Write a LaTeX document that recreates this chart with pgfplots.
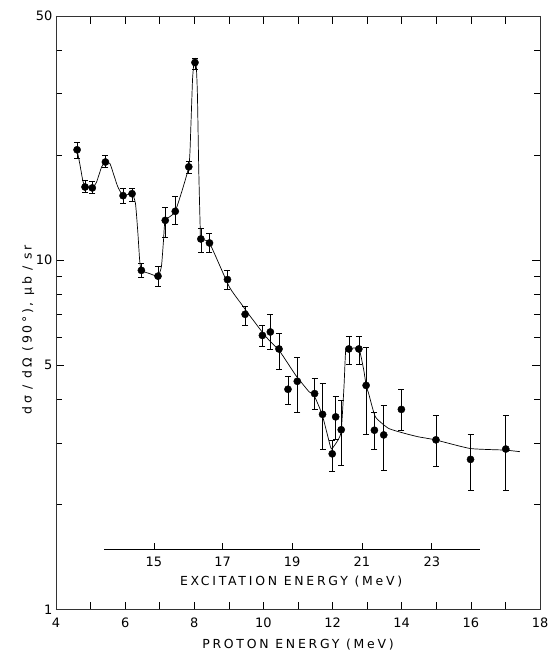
\documentclass[border=0pt]{standalone}
\usepackage{fontspec}
\setmainfont{DejaVu Sans}
\newfontfamily\spaced[LetterSpace=22]{DejaVu Sans}
\usepackage{pgfplots}
\usepackage{pgfplotstable}
\pgfplotsset{compat=1.18}
\usetikzlibrary{calc}

% measured points: proton energy, cross section, error bar low/high
\pgfplotstableread{
x y lo hi
4.61 20.7 19.6 21.8
4.84 16.2 15.6 16.9
5.05 16.1 15.5 16.8
5.43 19.1 18.4 19.9
5.94 15.3 14.5 16.1
6.20 15.5 14.7 16.1
6.47 9.35 8.96 9.78
6.95 9.0 8.4 9.6
7.16 13.0 11.6 14.2
7.45 13.8 12.7 15.2
7.84 18.5 17.7 19.2
8.02 36.8 35.2 37.9
8.19 11.5 10.5 12.3
8.44 11.2 10.5 11.9
8.96 8.8 8.27 9.33
9.47 7.0 6.5 7.4
9.97 6.09 5.67 6.5
10.20 6.23 5.57 6.98
10.45 5.57 4.86 6.18
10.71 4.27 3.86 4.65
10.98 4.5 3.68 5.28
11.48 4.15 3.75 4.58
11.71 3.62 2.87 4.44
11.99 2.79 2.49 3.06
12.09 3.56 3.07 4.07
12.25 3.27 2.58 3.97
12.47 5.57 5.05 6.05
12.76 5.57 5.05 6.05
12.97 4.38 3.18 5.64
13.21 3.26 2.88 3.67
13.48 3.16 2.51 3.85
13.99 3.74 3.25 4.27
14.99 3.06 2.57 3.59
15.99 2.69 2.20 3.18
17.01 2.88 2.19 3.59
}\pts

% hand-drawn guide curve
\pgfplotstableread{
x y
4.61 20.7
4.70 18.6
4.77 17.0
4.84 16.2
5.05 16.1
5.17 16.7
5.32 18.5
5.43 19.1
5.56 18.9
5.70 17.2
5.79 16.2
5.94 15.3
6.20 15.5
6.30 14.5
6.37 11.9
6.42 10.0
6.47 9.35
6.71 9.15
6.95 9.0
7.05 9.6
7.11 11.4
7.16 13.0
7.45 13.8
7.84 18.5
7.90 24
7.95 33
8.00 37.6
8.05 37.2
8.09 30
8.13 18
8.17 12.5
8.19 11.5
8.44 11.2
9.01 8.4
9.38 7.45
9.59 6.97
10.07 6.04
10.48 5.47
10.93 4.69
11.32 4.2
11.46 4.11
11.70 3.61
11.94 2.92
11.99 2.89
12.16 3.06
12.25 3.24
12.33 4.34
12.38 5.53
12.47 5.58
12.76 5.58
12.90 4.86
12.97 4.39
13.05 4.13
13.24 3.56
13.62 3.30
14.10 3.19
14.49 3.12
14.97 3.06
15.98 2.89
16.98 2.86
17.42 2.83
}\curve

\begin{document}
\begin{tikzpicture}
\begin{axis}[
  scale only axis, width=484bp, height=593.5bp,
  xmin=4, xmax=18, ymode=log, ymin=1, ymax=50,
  xtick={4,...,18}, xticklabels={4,,6,,8,,10,,12,,14,,16,,18},
  ytick={1,5,10,50}, yticklabels={1,5,10,50},
  minor ytick={2,3,4,6,7,8,9,20,30,40},
  tick align=inside, major tick length=8bp, minor tick length=6bp,
  axis line style={line width=0.6pt, black!80},
  tick style={black, line width=0.6pt},
  tick label style={font=\fontsize{13}{15}\selectfont},
  xticklabel style={yshift=-5bp},
  /pgf/number format/assume math mode=true,
  xlabel={\spaced PROTON ENERGY (MeV)},
  ylabel={\spaced dσ / dΩ (90°), μb / sr},
  every axis x label/.style={at={(axis description cs:0.5,-0.0598)}, anchor=center,
    font=\fontsize{12.5}{15}\selectfont},
  every axis y label/.style={at={(axis description cs:-0.0576,0.4714)}, rotate=90,
    anchor=center, font=\fontsize{12.5}{15}\selectfont},
  clip=false,
]
\addplot[black, line width=0.7pt, smooth, tension=0.3] table {\curve};
\addplot[black, only marks, mark=*, mark size=3.6bp,
  error bars/.cd, y dir=both, y explicit,
  error bar style={line width=0.6pt},
  error mark options={rotate=90, mark size=3bp, line width=0.6pt}]
  table[y error plus expr=\thisrow{hi}-\thisrow{y},
        y error minus expr=\thisrow{y}-\thisrow{lo}] {\pts};
% excitation energy scale
\draw[line width=0.6pt] (axis cs:5.39,1.485) -- (axis cs:16.27,1.485);
\draw[line width=0.6pt]
  (axis cs:6.83,1.485) -- (axis cs:6.83,1.555)
  (axis cs:8.82,1.485) -- (axis cs:8.82,1.555)
  (axis cs:10.83,1.485) -- (axis cs:10.83,1.555)
  (axis cs:12.85,1.485) -- (axis cs:12.85,1.555)
  (axis cs:14.87,1.485) -- (axis cs:14.87,1.555);
\path[font=\fontsize{13}{15}\selectfont]
  (axis cs:6.83,1.485) node[yshift=-12bp] {15}
  (axis cs:8.82,1.485) node[yshift=-12bp] {17}
  (axis cs:10.83,1.485) node[yshift=-12bp] {19}
  (axis cs:12.85,1.485) node[yshift=-12bp] {21}
  (axis cs:14.87,1.485) node[yshift=-12bp] {23};
\node[font=\fontsize{12.5}{15}\selectfont, yshift=-32.5bp] at (axis cs:10.8,1.485)
  {\spaced EXCITATION ENERGY (MeV)};
\coordinate (sw) at (rel axis cs:0,0);
\coordinate (ne) at (rel axis cs:1,1);
\end{axis}
\pgfresetboundingbox
\path ($(sw)+(-56bp,-43.5bp)$) rectangle ($(ne)+(8bp,16bp)$);
\end{tikzpicture}
\end{document}
